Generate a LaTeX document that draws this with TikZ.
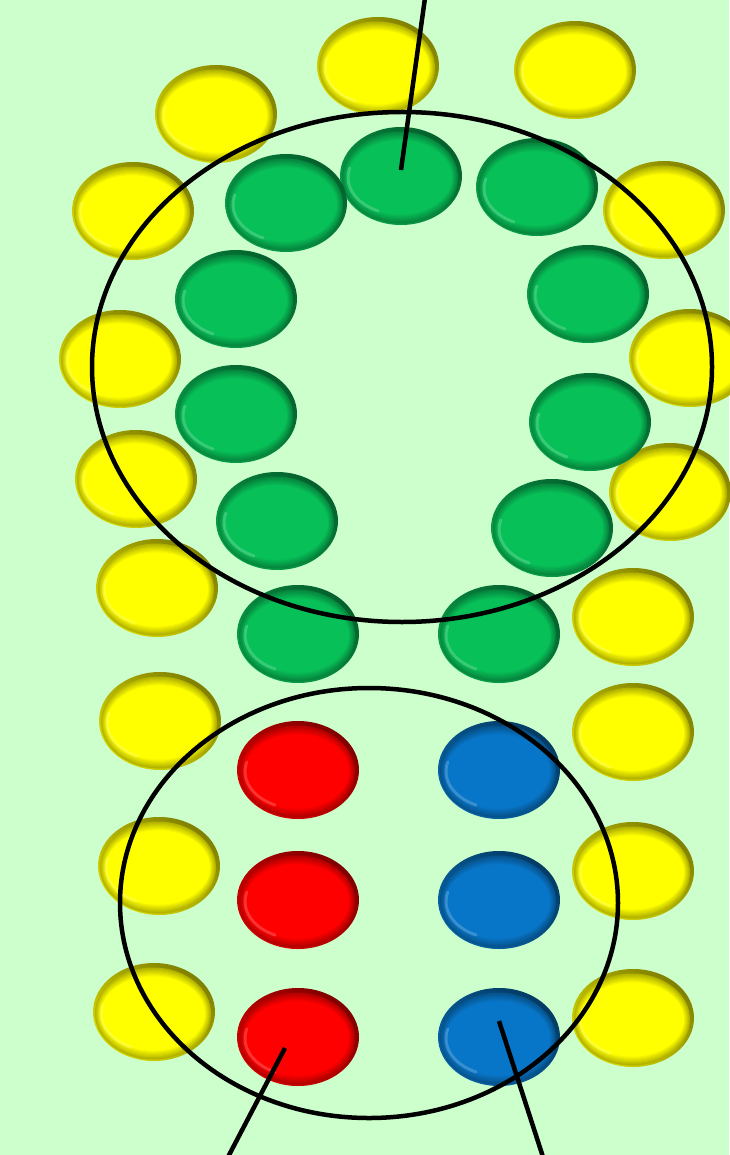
\documentclass[tikz,border=0pt]{standalone}
\begin{document}
\definecolor{bg}{RGB}{204,255,204}
\definecolor{byellow}{RGB}{255,255,0}
\definecolor{bgreen}{RGB}{8,192,88}
\definecolor{bred}{RGB}{255,0,0}
\definecolor{bblue}{RGB}{8,118,200}
\newcommand\mybtn[3]{%
 \begin{scope}[shift={(#1,#2)}]
  \shade[top color=#3!50!black, bottom color=#3!85!black, shading angle=-40] (0,0) ellipse [x radius=61, y radius=49];
  \foreach \k in {0,...,8} {%
    \pgfmathsetmacro\rx{58-0.75*\k}\pgfmathsetmacro\ry{46-1.1*\k}\pgfmathsetmacro\mx{int(70+3.75*\k)}%
    \fill[#3!\mx!black] (-1,1.5) ellipse [x radius=\rx, y radius=\ry];}
  \draw[#3!45!white, line width=3pt, opacity=0.35, line cap=round] (-1,1.5) ++(115:52 and 37) arc [start angle=115, end angle=195, x radius=52, y radius=37];
 \end{scope}}
\begin{tikzpicture}[x=1pt,y=-1pt]
\fill[bg] (0,0) rectangle (729,1155);
\useasboundingbox (0,0) rectangle (729,1155);
% yellow
\foreach \a/\b in {378/66,216/114,575/70,133/211,664/210,120/359,690/358,136/479,670/492,157/588,633/617,160/721,633/732,159/866,633/871,154/1012,633/1018}
  {\mybtn{\a}{\b}{byellow}}
% green
\foreach \a/\b in {401/176,286/203,537/187,236/299,588/294,236/414,590/422,277/521,552/528,298/634,499/634}
  {\mybtn{\a}{\b}{bgreen}}
% red and blue
\foreach \b in {770,900,1037} {\mybtn{298}{\b}{bred}\mybtn{499}{\b}{bblue}}
% rings
\draw[line width=4.5pt] (402,367) ellipse [x radius=310, y radius=255];
\draw[line width=4.5pt] (369,903) ellipse [x radius=249, y radius=215];
% pointer lines
\coordinate (t1) at (401,170);
\coordinate (t2) at (425,-2);
\coordinate (l1) at (285,1048);
\coordinate (l2) at (228,1157);
\coordinate (r1) at (499,1021);
\coordinate (r2) at (543,1157);
\draw[line width=4.5pt] (t1) -- (t2);
\draw[line width=4.5pt] (l1) -- (l2);
\draw[line width=4.5pt] (r1) -- (r2);
\end{tikzpicture}
\end{document}
